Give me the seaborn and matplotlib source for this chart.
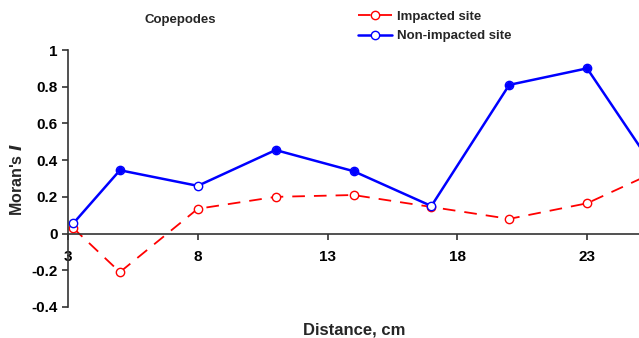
import numpy as np
import pandas as pd
import seaborn as sns
import matplotlib.pyplot as plt

distance = [3.2, 5, 8, 11, 14, 17, 20, 23, 26]
impacted = [0.03, -0.21, 0.135, 0.20, 0.21, 0.145, 0.08, 0.165, 0.36]
non_impacted = [0.055, 0.345, 0.26, 0.455, 0.34, 0.15, 0.81, 0.90, 0.27]
non_impacted_filled = [False, True, False, True, True, False, True, True, True]
x_ticks = [3, 8, 13, 18, 23]
y_ticks = [-0.4, -0.2, 0, 0.2, 0.4, 0.6, 0.8, 1]

sns.set_style('white')
plt.rcParams['font.family'] = ['Liberation Sans', 'DejaVu Sans']
plt.rcParams['font.weight'] = 'bold'

df = pd.DataFrame({'d': distance, 'imp': impacted, 'non': non_impacted})

fig = plt.figure(figsize=(6.39, 3.38), dpi=100)
ax = fig.add_axes([68 / 639, 31 / 338, 1 - 68 / 639, 257 / 338])

sns.lineplot(data=df, x='d', y='imp', ax=ax, color='#ff0000', lw=1.3,
             dashes=False, linestyle=(0, (7, 5)), marker='o', markersize=6,
             markerfacecolor='white', markeredgecolor='#ff0000',
             markeredgewidth=1, label='Impacted site')
sns.lineplot(data=df, x='d', y='non', ax=ax, color='#0000ff', lw=1.8,
             marker='o', markersize=6, markerfacecolor='white',
             markeredgecolor='#0000ff', markeredgewidth=1,
             label='Non-impacted site')
filled = df[non_impacted_filled]
ax.plot(filled['d'], filled['non'], 'o', color='#0000ff', markersize=4.5)

ax.set_xlim(3, 25)
ax.set_ylim(-0.4, 1)
ax.set_xticks(x_ticks)
ax.set_yticks(y_ticks)
ax.set_yticklabels(['-0.4', '-0.2', '0', '0.2', '0.4', '0.6', '0.8', '1'])
ax.spines['top'].set_visible(False)
ax.spines['right'].set_visible(False)
ax.spines['bottom'].set_position(('data', 0))
for s in ['left', 'bottom']:
    ax.spines[s].set_color('#333333')
    ax.spines[s].set_linewidth(1.2)
ax.tick_params(axis='both', direction='out', length=4, width=1.2,
               labelsize=11, color='#333333', labelcolor='black',
               bottom=True, left=True)
ax.tick_params(axis='x', pad=8)
for t in ax.get_xticklabels() + ax.get_yticklabels():
    t.set_fontweight('bold')

ax.set_xlabel('')
ax.set_ylabel('')
fig.text(354 / 639, 1 - 330 / 338, 'Distance, cm', ha='center', va='center',
         fontsize=12, fontweight='bold')
fig.text(17 / 639, 1 - 180 / 338, "Moran's $\\mathbfit{I}$", rotation=90,
         ha='center', va='center', fontsize=11.5, fontweight='bold')
fig.text(180 / 639, 1 - 20 / 338, 'Copepodes', ha='center', va='center',
         fontsize=9.5, fontweight='bold')

ax.legend(loc='upper left', bbox_to_anchor=(278 / 571, 1.20), frameon=False,
          handlelength=2.6, handletextpad=0.35, labelspacing=0.55,
          prop={'weight': 'bold', 'size': 9.5})

fig.savefig('out.png', dpi=100)
